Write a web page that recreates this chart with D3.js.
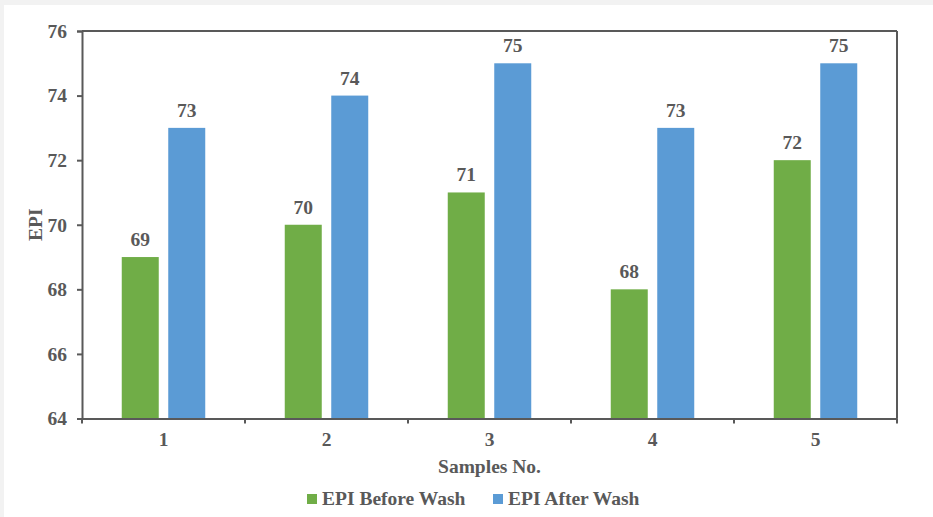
<!DOCTYPE html>
<html><head><meta charset="utf-8">
<script src="https://cdn.jsdelivr.net/npm/d3@7"></script>
<style>body{margin:0;background:#f2f2f2}svg{display:block}</style>
</head><body>
<script>
const categories = ["1","2","3","4","5"];
const seriesNames = ["EPI Before Wash","EPI After Wash"];
const before = [69,70,71,68,72];
const after = [73,74,75,73,75];
const yTicks = [64,66,68,70,72,74,76];
const colors = ["#70ad47","#5b9bd5"];

const W=933,H=517;
const m={left:82,right:36,top:31,bottom:98.5};
const svg=d3.select("body").append("svg").attr("width",W).attr("height",H);
svg.append("rect").attr("x",4).attr("y",5).attr("width",W-4).attr("height",H-5).attr("fill","#fff");
const font="'Liberation Serif','Times New Roman',serif";
const tc="#595959";
const fs=19.5;

const x=d3.scaleBand().domain(categories).range([m.left,W-m.right]);
const y=d3.scaleLinear().domain([64,76]).range([H-m.bottom,m.top]);
const bw=37, gap=9.5;

const data=categories.map((c,i)=>({c,vals:[before[i],after[i]]}));
const g=svg.append("g");
data.forEach(d=>{
  d.vals.forEach((v,j)=>{
    const cx=x(d.c)+x.bandwidth()/2;
    const bx = j===0 ? cx-gap/2-bw : cx+gap/2;
    g.append("rect").attr("x",bx).attr("y",y(v)).attr("width",bw).attr("height",y(64)-y(v)).attr("fill",colors[j]);
    g.append("text").attr("x",bx+bw/2).attr("y",y(v)-11).attr("text-anchor","middle")
      .attr("font-family",font).attr("font-weight","bold").attr("font-size",fs).attr("fill",tc).text(v);
  });
});

const lc="#595959";
svg.append("line").attr("x1",m.left).attr("x2",W-m.right).attr("y1",m.top).attr("y2",m.top).attr("stroke",lc).attr("stroke-width",2);
svg.append("line").attr("x1",W-m.right).attr("x2",W-m.right).attr("y1",m.top).attr("y2",H-m.bottom).attr("stroke",lc).attr("stroke-width",2);

const ya=svg.append("g").attr("transform",`translate(${m.left},0)`)
  .call(d3.axisLeft(y).tickValues(yTicks).tickSize(5).tickPadding(10).tickFormat(d3.format("d")));
ya.select(".domain").attr("stroke",lc).attr("stroke-width",2);
ya.selectAll(".tick line").attr("stroke",lc).attr("stroke-width",2);
ya.selectAll("text").attr("font-family",font).attr("font-weight","bold").attr("font-size",fs).attr("fill",tc);

const xa=svg.append("g").attr("transform",`translate(0,${H-m.bottom})`)
  .call(d3.axisBottom(x).tickSize(0).tickPadding(14));
xa.select(".domain").attr("stroke",lc).attr("stroke-width",2);
xa.selectAll("text").attr("font-family",font).attr("font-weight","bold").attr("font-size",fs).attr("fill",tc);
const bounds=categories.map(c=>x(c)).concat([W-m.right]);
xa.selectAll(".bt").data(bounds).enter().append("line").attr("class","bt")
  .attr("x1",d=>d).attr("x2",d=>d).attr("y1",0).attr("y2",5).attr("stroke",lc).attr("stroke-width",2);

svg.append("text").attr("transform",`translate(42,${(m.top+H-m.bottom)/2}) rotate(-90)`)
  .attr("text-anchor","middle").attr("font-family",font).attr("font-weight","bold").attr("font-size",fs).attr("fill",tc).text("EPI");
svg.append("text").attr("x",(m.left+W-m.right)/2).attr("y",473).attr("text-anchor","middle")
  .attr("font-family",font).attr("font-weight","bold").attr("font-size",fs).attr("fill",tc).text("Samples No.");

const leg=[{x:307,tx:322},{x:493,tx:508}];
seriesNames.forEach((n,i)=>{
  svg.append("rect").attr("x",leg[i].x).attr("y",494).attr("width",10).attr("height",10).attr("fill",colors[i]);
  svg.append("text").attr("x",leg[i].tx).attr("y",505).attr("font-family",font).attr("font-weight","bold")
    .attr("font-size",fs).attr("fill",tc).text(n);
});
</script>
</body></html>
